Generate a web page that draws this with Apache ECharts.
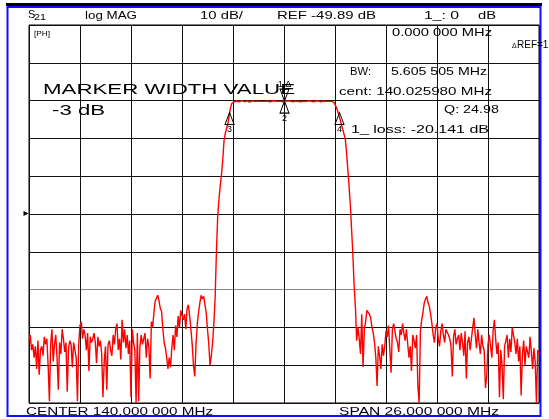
<!DOCTYPE html>
<html><head><meta charset="utf-8">
<script src="https://cdn.jsdelivr.net/npm/echarts@6/dist/echarts.min.js"></script>
<style>html,body{margin:0;padding:0;background:#fff}#c{width:549px;height:419px}</style>
</head><body><div id="c"></div>
<script>
// ---- data ----
const startMHz = 127;
const spanMHz = 26;
const yMax = 0, yMin = -100, dbPerDiv = 10;
const refLevel = -49.89;

const leftNoise = [
 -83.5,-82,-86,-84.5,-88,-85,-91,-83.5,-92.5,-86,
 -85,-87.5,-82.5,-84.5,-83,-90,-99.5,-84.5,-80.5,-89,
 -84.5,-82,-88,-96.5,-84,-87,-80.5,-83,-86.5,-84,
 -97,-85.5,-83.5,-84.5,-90.5,-84,-86,-88,-99.5,-84.5,
 -79.5,-78.5,-83,-80.5,-82,-86,-81.5,-91.5,-82.5,-84,
 -83,-81.5,-84,-89.5,-82.5,-85,-83.5,-87,-98.5,-89,
 -85,-96.5,-84.5,-83.5,-86,-87.5,-82,-84.5,-80.5,-79,
 -86,-83,-88.5,-78,-84,-80.5,-85.5,-82,-87,-83.5,
 -98.5,-80.5,-84,-86,-100,-81.5,-99.5,-85,-82,-84.5,
 -84.5,-81.5,-88,-83,-85,-93.5,-78.5,-80,-76,-73,
 -72.3,-71.5,-73,-75,-75.8,-80.5,-84,-85.5,-88,-91,
 -88,-90.5,-85.5,-82,-86,-79.5,-82.5,-77,-80,-75.5,
 -75.5,-78,-76.5,-80.5,-75,-74,-77,-80.5,-84.5,-90,
 -93,-84.5,-79,-76,-73.5,-71.5,-72.5,-71.8,-74,-76.2,
 -80.5,-84.5,-90,-87.5,-84,-79
];
const leftSkirt = [-72,-60,-50.7,-46,-42.5,-39.5,-35.5,-30.5,-28.6,-27.3,-26,-24,-22,-20.8,-20.3];
const passband = [
 -20.3,-20.2,-20.1,-20.2,-20.3,-20.1,-20.0,-20.2,-20.3,-20.2,
 -20.1,-20.2,-20.4,-20.3,-20.1,-20.2,-20.2,-20.0,-20.1,-20.3,
 -20.2,-20.1,-20.2,-20.3,-20.2,-20.1,-20.1,-20.2,-20.3,-20.2,
 -20.1,-20.0,-20.1,-20.2,-20.2,-20.1,-20.14,-20.2,-20.3,-20.2,
 -20.1,-20.2,-20.1,-20.0,-20.1,-20.2,-20.3,-20.2,-20.1,-20.2,
 -20.2,-20.1,-20.3,-20.4,-20.2,-20.1,-20.2,-20.2,-20.1,-20.0,
 -20.1,-20.2,-20.3,-20.2,-20.1,-20.2,-20.1,-20.2,-20.3,-20.2,
 -20.1,-20.2,-20.2,-20.1,-20.2,-20.3,-20.2,-20.2
];
const rightSkirt = [-20.4,-20.9,-21.7,-22.7,-23.8,-25,-26.3,-27.5,-28.8,-30,-33.5,-38,-42.5,-47.5,-54,-60.5,-69,-74.5];
const rightNoise = [
 -83.5,-80,-83,-87,-76.5,-90.5,-80.5,-78.5,-75.5,-75,
 -76.5,-77.5,-80,-81.5,-84,-88,-95.5,-85,-87.5,-91,
 -84.5,-87.5,-85,-81,-82.5,-79.5,-86,-92,-80.5,-79,
 -79.5,-83,-84,-86.5,-80.5,-82,-79,-81.5,-83.5,-80.5,
 -80.5,-88,-85,-91.5,-82,-83.5,-85.5,-82,-95.5,-100,
 -81,-78,-76,-73.5,-72.5,-71.8,-73.5,-74.5,-76.5,-79,
 -82,-84,-80,-79,-83,-85,-81,-79,-82,-84,
 -80.5,-80,-82,-83,-85,-93,-82.5,-80.5,-84.5,-83,
 -82,-86,-81.5,-84,-87.5,-81,-93.5,-84,-82.5,-86,
 -83,-80,-77.5,-82,-85.5,-80.5,-84,-87,-82,-85,
 -86,-96,-93,-84.5,-82,-85,-88,-81,-78,-83,
 -87,-84,-98.5,-86,-90,-99,-85,-84.5,-82,-88,
 -83,-86.5,-80,-79.5,-84,-87,-83,-89,-85,-98,
 -87,-83.5,-90,-85,-84.5,-88,-82.5,-86.5,-91,-85.5,
 -89,-100,-86,-87
];
const markerNames = ['1','2','3','4'];
const markerFreqs = [140.026, 140.026, 137.223, 142.829];
const markerValues = [-20.141, -20.141, -23.14, -23.14];

// ---- build ----
const trace = leftNoise.concat(leftSkirt, passband, rightSkirt, rightNoise);
const N = trace.length;
const seriesData = trace.map((v, i) => [i * spanMHz / (N - 1), v]);

const FAM = '"Liberation Sans", Arial, Helvetica, sans-serif';
const mctx = document.createElement('canvas').getContext('2d');
function fitText(s, x, y, size, width, extra) {
  mctx.font = size + 'px ' + FAM;
  const w = mctx.measureText(s).width;
  return Object.assign({
    type: 'text', x: x, y: y, z: 100,
    scaleX: width ? width / w : 1,
    style: { text: s, fontSize: size, fontFamily: FAM, fill: '#000', align: 'left', verticalAlign: 'middle' }
  }, extra || {});
}

const markPoints = markerNames.map((n, k) => {
  const base = {
    coord: [markerFreqs[k] - startMHz, markerValues[k]],
    symbol: 'triangle',
    symbolSize: [9, 12],
    itemStyle: { color: 'rgba(0,0,0,0)', borderColor: '#000', borderWidth: 1 },
    label: { show: true, formatter: n, color: '#000', fontSize: 9, fontFamily: FAM, distance: 0 }
  };
  if (k === 0) {
    base.symbolRotate = 180;
    base.symbolOffset = [0, -6];
    base.label.position = 'top';
    base.label.formatter = '1 \u0394';
  } else {
    base.symbolOffset = [0, 6];
    base.label.position = 'bottom';
  }
  return base;
});
markPoints.push({
  coord: [0, refLevel], symbol: 'triangle', symbolSize: [5, 5], symbolRotate: -90,
  symbolOffset: [-3, 0], itemStyle: { color: '#000' }, label: { show: false }
});

const gridLineColor = '#111';
const option = {
  animation: false,
  backgroundColor: '#fff',
  grid: { left: 29, right: 10, top: 25, bottom: 16, show: true, borderColor: '#000', borderWidth: 1, containLabel: false },
  xAxis: {
    type: 'value', min: 0, max: spanMHz, interval: spanMHz / 10,
    axisLabel: { show: false }, axisTick: { show: false }, axisLine: { show: false },
    splitLine: { show: true, lineStyle: { color: gridLineColor, width: 1 } }
  },
  yAxis: {
    type: 'value', min: yMin, max: yMax, interval: dbPerDiv,
    axisLabel: { show: false }, axisTick: { show: false }, axisLine: { show: false },
    splitLine: { show: true, lineStyle: { color: [gridLineColor, gridLineColor, gridLineColor, '#888', gridLineColor, gridLineColor, gridLineColor, gridLineColor, gridLineColor, gridLineColor, gridLineColor], width: 1 } }
  },
  series: [{
    type: 'line', data: seriesData, showSymbol: false, symbol: 'none',
    lineStyle: { color: '#ff0000', width: 1.4 }, z: 3,
    markPoint: { silent: true, data: markPoints, animation: false }
  }],
  graphic: [
    { type: 'rect', shape: { x: 6, y: 3, width: 536, height: 3 }, style: { fill: '#000' }, z: 90 },
    { type: 'rect', shape: { x: 7.5, y: 7, width: 533, height: 409 }, style: { fill: 'none', stroke: '#1010ff', lineWidth: 2 }, z: 90 },
    fitText('S', 28, 15, 11, 0),
    fitText('21', 34, 18, 9, 12),
    fitText('log MAG', 85, 16, 11, 52),
    fitText('10 dB/', 200, 16, 11, 43),
    fitText('REF -49.89 dB', 277, 16, 11, 99),
    fitText('1_: 0', 424, 16, 11, 35),
    fitText('dB', 478, 16, 11, 18),
    fitText('[PH]', 34, 34.5, 7, 16),
    fitText('0.000 000 MHz', 392, 32.5, 11, 100),
    fitText('\u0394', 512, 46, 7, 0),
    fitText('REF=1', 517, 45, 10, 0),
    fitText('BW:', 350, 72, 11, 21),
    fitText('5.605 505 MHz', 391, 72, 11, 96),
    fitText('cent: 140.025980 MHz', 339, 92, 11, 153),
    fitText('Q: 24.98', 444, 110, 11, 55),
    fitText('1_ loss: -20.141 dB', 351, 130, 11, 138),
    fitText('MARKER WIDTH VALUE', 43, 90, 14, 252),
    fitText('-3 dB', 52, 111, 14, 53),
    fitText('CENTER 140.000 000 MHz', 26, 411.5, 11, 187),
    fitText('SPAN 26.000 000 MHz', 339, 411.5, 11, 160)
  ]
};
const chart = echarts.init(document.getElementById('c'), null, { renderer: 'canvas' });
chart.setOption(option);
</script>
</body></html>
